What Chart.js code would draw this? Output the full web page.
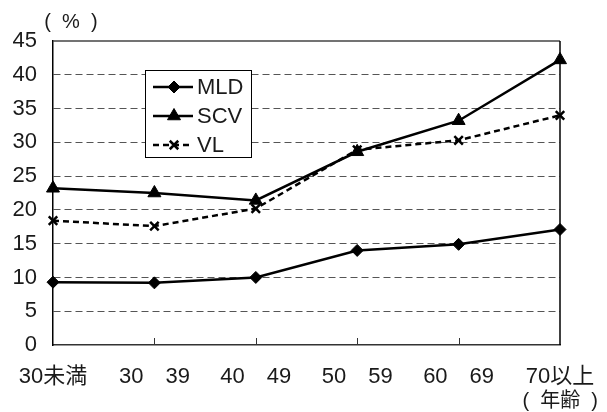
<!DOCTYPE html>
<html lang="ja">
<head>
<meta charset="UTF-8">
<title>年齢別</title>
<style>
  * { margin: 0; padding: 0; box-sizing: border-box; }
  body { background: #fff; }
  #wrap { width: 607px; height: 412px; position: relative; }
</style>
<script src="https://cdn.jsdelivr.net/npm/chart.js"></script>
</head>
<body>
<div id="wrap"><canvas id="chart" width="607" height="412"></canvas></div>
<script>
const categories = ['30未満', '30\u300039', '40\u300049', '50\u300059', '60\u300069', '70以上'];
const mldValues = [9.3, 9.2, 10.0, 14.0, 14.9, 17.1];
const scvValues = [23.2, 22.5, 21.4, 28.6, 33.2, 42.2];
const vlValues = [18.4, 17.6, 20.2, 28.9, 30.3, 34.0];
const yMin = 0, yMax = 45, yStep = 5;

const FONT = "'Liberation Sans', Arial, 'Noto Sans CJK JP', sans-serif";
const TEXT = '#1a1a1a';

// frame, inner tick marks, unit labels and the boxed legend
const decor = {
  id: 'decor',
  afterDraw(chart) {
    const { ctx, chartArea: a, scales: { x } } = chart;
    ctx.save();
    ctx.lineWidth = 1.5;
    ctx.strokeStyle = '#444';
    ctx.beginPath();
    ctx.moveTo(a.left, a.top); ctx.lineTo(a.right, a.top);
    ctx.stroke();
    ctx.strokeStyle = '#000';
    ctx.beginPath();
    ctx.moveTo(a.right, a.top); ctx.lineTo(a.right, a.bottom);
    ctx.stroke();
    // short ticks pointing up from the x axis
    ctx.lineWidth = 1;
    ctx.strokeStyle = '#333';
    for (let i = 1; i < categories.length - 1; i++) {
      const px = Math.round(x.getPixelForValue(i)) + 0.5;
      ctx.beginPath();
      ctx.moveTo(px, a.bottom); ctx.lineTo(px, a.bottom - 7);
      ctx.stroke();
    }

    ctx.fillStyle = TEXT;
    ctx.font = '20px ' + FONT;
    ctx.textBaseline = 'middle';
    ctx.textAlign = 'center';
    ctx.fillText('(  %  )', 71, 22);
    ctx.textAlign = 'right';
    ctx.fillText('(  年齢  )', 598, 401);

    // legend
    const lx = 145, ly = 70, lw = 106, lh = 87;
    ctx.fillStyle = '#fff';
    ctx.fillRect(lx, ly, lw, lh);
    ctx.lineWidth = 1;
    ctx.strokeStyle = '#000';
    ctx.strokeRect(lx + 0.5, ly + 0.5, lw, lh);
    chart.data.datasets.forEach((ds, i) => {
      const cy = ly + 17 + i * 29;
      ctx.save();
      ctx.strokeStyle = ds.borderColor;
      ctx.lineWidth = ds.borderWidth;
      ctx.setLineDash(ds.borderDash || []);
      ctx.beginPath();
      ctx.moveTo(153, cy); ctx.lineTo(193, cy);
      ctx.stroke();
      ctx.setLineDash([]);
      ctx.fillStyle = ds.pointBackgroundColor;
      ctx.strokeStyle = ds.pointBorderColor;
      ctx.lineWidth = ds.pointBorderWidth;
      Chart.helpers.drawPoint(ctx, {
        pointStyle: ds.pointStyle, radius: ds.pointRadius, rotation: 0, borderWidth: ds.pointBorderWidth
      }, 174, cy);
      ctx.restore();
      ctx.fillStyle = TEXT;
      ctx.textAlign = 'left';
      ctx.font = '22px ' + FONT;
      ctx.fillText(ds.label, 197, cy + 1);
    });
    ctx.restore();
  }
};

new Chart(document.getElementById('chart'), {
  type: 'line',
  data: {
    labels: categories,
    datasets: [
      {
        label: 'MLD', data: mldValues,
        borderColor: '#000', borderWidth: 2.5,
        pointStyle: 'rectRot', pointRadius: 6,
        pointBackgroundColor: '#000', pointBorderColor: '#000', pointBorderWidth: 1
      },
      {
        label: 'SCV', data: scvValues,
        borderColor: '#000', borderWidth: 2.5,
        pointStyle: 'triangle', pointRadius: 7.5,
        pointBackgroundColor: '#000', pointBorderColor: '#000', pointBorderWidth: 1
      },
      {
        label: 'VL', data: vlValues,
        borderColor: '#000', borderWidth: 2.5, borderDash: [6, 4],
        pointStyle: 'crossRot', pointRadius: 6,
        pointBackgroundColor: '#000', pointBorderColor: '#000', pointBorderWidth: 2.5
      }
    ]
  },
  options: {
    responsive: false,
    animation: false,
    layout: { padding: { top: 41, right: 47, bottom: 0, left: 0 } },
    plugins: { legend: { display: false }, tooltip: { enabled: false } },
    elements: { line: { tension: 0 } },
    scales: {
      x: {
        offset: false,
        grid: { display: false },
        border: { display: true, color: '#333', width: 1.5 },
        ticks: { color: TEXT, font: { family: FONT, size: 22 }, padding: 11, maxRotation: 0, autoSkip: false },
        afterFit: s => { s.height = 67; }
      },
      y: {
        min: yMin, max: yMax,
        ticks: { stepSize: yStep, color: TEXT, font: { family: FONT, size: 22 }, padding: 16 },
        grid: {
          drawTicks: false,
          color: c => (c.tick.value === yMin || c.tick.value === yMax) ? 'rgba(0,0,0,0)' : '#555',
          lineWidth: 1
        },
        border: { display: true, color: '#000', width: 1.5, dash: [7, 4] },
        afterFit: s => { s.width = 53; }
      }
    }
  },
  plugins: [decor]
});
</script>
</body>
</html>
